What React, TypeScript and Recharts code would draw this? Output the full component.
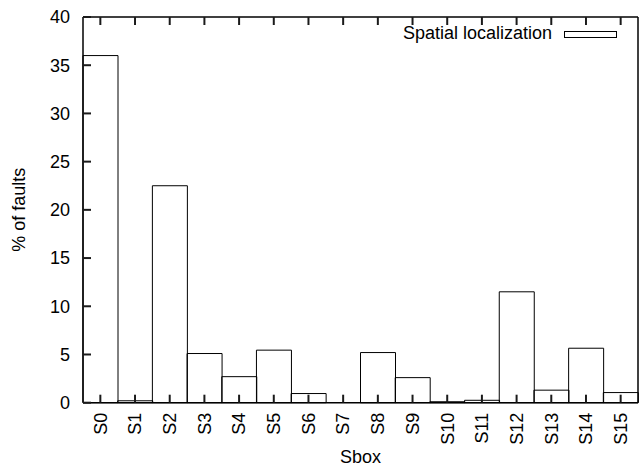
import React from 'react';
import { BarChart, Bar, XAxis, YAxis, Legend, Label } from 'recharts';

const sboxes = ['S0', 'S1', 'S2', 'S3', 'S4', 'S5', 'S6', 'S7', 'S8', 'S9', 'S10', 'S11', 'S12', 'S13', 'S14', 'S15'];
const faultPct = [36, 0.2, 22.5, 5.1, 2.7, 5.45, 0.95, 0, 5.2, 2.6, 0.1, 0.25, 11.5, 1.3, 5.65, 1.05];
const yTicks = [0, 5, 10, 15, 20, 25, 30, 35, 40];
const seriesName = 'Spatial localization';

const data = sboxes.map((name, i) => ({ name, value: faultPct[i] }));

const FONT = '"Liberation Sans", Arial, Helvetica, sans-serif';
const TICK_LEN = 8;
const tickLineStyle = { stroke: '#1a1a1a', strokeWidth: 2 };
const borderStyle = { stroke: '#000', strokeWidth: 1.5 };

// tick lines point inward (negative tickSize), so the given x/y sit TICK_LEN inside the box
const BottomTick = (props: any) => {
  const { x, y, payload } = props;
  const ty = y + TICK_LEN + 10;
  return (
    <text x={x} y={ty} transform={`rotate(-90 ${x} ${ty})`} textAnchor="end" dy="0.35em" fontSize={18} fontFamily={FONT} fill="#000">
      {payload.value}
    </text>
  );
};

const LeftTick = (props: any) => {
  const { x, y, payload } = props;
  return (
    <text x={x - TICK_LEN - 11} y={y} dy="0.35em" textAnchor="end" fontSize={18} fontFamily={FONT} fill="#000">
      {payload.value}
    </text>
  );
};

const NoTick = () => <g />;

const XTitle = (props: any) => {
  const vb = props.viewBox;
  return (
    <text x={vb.x + vb.width / 2} y={vb.y + 60} textAnchor="middle" fontSize={18} fontFamily={FONT} fill="#000">
      Sbox
    </text>
  );
};

const YTitle = (props: any) => {
  const vb = props.viewBox;
  const cy = vb.y + vb.height / 2;
  return (
    <text x={25} y={cy} transform={`rotate(-90 25 ${cy})`} textAnchor="middle" fontSize={18} fontFamily={FONT} fill="#000">
      % of faults
    </text>
  );
};

const LegendBox = () => (
  <svg width={639} height={50} style={{ display: 'block' }}>
    <text x={552} y={38.5} textAnchor="end" fontSize={18} fontFamily={FONT} fill="#000">
      {seriesName}
    </text>
    <rect x={564.5} y={31.5} width={52} height={6} fill="none" stroke="#000" strokeWidth={1} />
  </svg>
);

export default function App() {
  return (
    <div style={{ position: 'absolute', left: 0, top: 0, background: '#fff' }}>
      <BarChart width={639} height={468} data={data} margin={{ top: 16, right: 0, left: 0, bottom: 0 }} barCategoryGap={0}>
        <XAxis
          dataKey="name"
          height={65.3}
          interval={0}
          tickLine={tickLineStyle}
          tickSize={-TICK_LEN}
          tickMargin={0}
          tick={<BottomTick />}
          axisLine={borderStyle}
        >
          <Label content={<XTitle />} />
        </XAxis>
        <XAxis
          xAxisId="top"
          dataKey="name"
          orientation="top"
          height={1}
          interval={0}
          tickLine={tickLineStyle}
          tickSize={-TICK_LEN}
          tickMargin={0}
          tick={<NoTick />}
          axisLine={borderStyle}
        />
        <YAxis
          width={83}
          domain={[0, 40]}
          ticks={yTicks}
          tickLine={tickLineStyle}
          tickSize={-TICK_LEN}
          tick={<LeftTick />}
          axisLine={borderStyle}
        >
          <Label content={<YTitle />} />
        </YAxis>
        <YAxis
          yAxisId="right"
          orientation="right"
          width={1}
          domain={[0, 40]}
          ticks={yTicks}
          tickLine={tickLineStyle}
          tickSize={-TICK_LEN}
          tick={<NoTick />}
          axisLine={borderStyle}
        />
        <Legend
          layout="horizontal"
          verticalAlign="middle"
          align="center"
          wrapperStyle={{ position: 'absolute', left: 0, top: 0, width: 639, height: 50 }}
          content={<LegendBox />}
        />
        <Bar dataKey="value" name={seriesName} fill="none" stroke="#000" strokeWidth={1} isAnimationActive={false} />
      </BarChart>
    </div>
  );
}
